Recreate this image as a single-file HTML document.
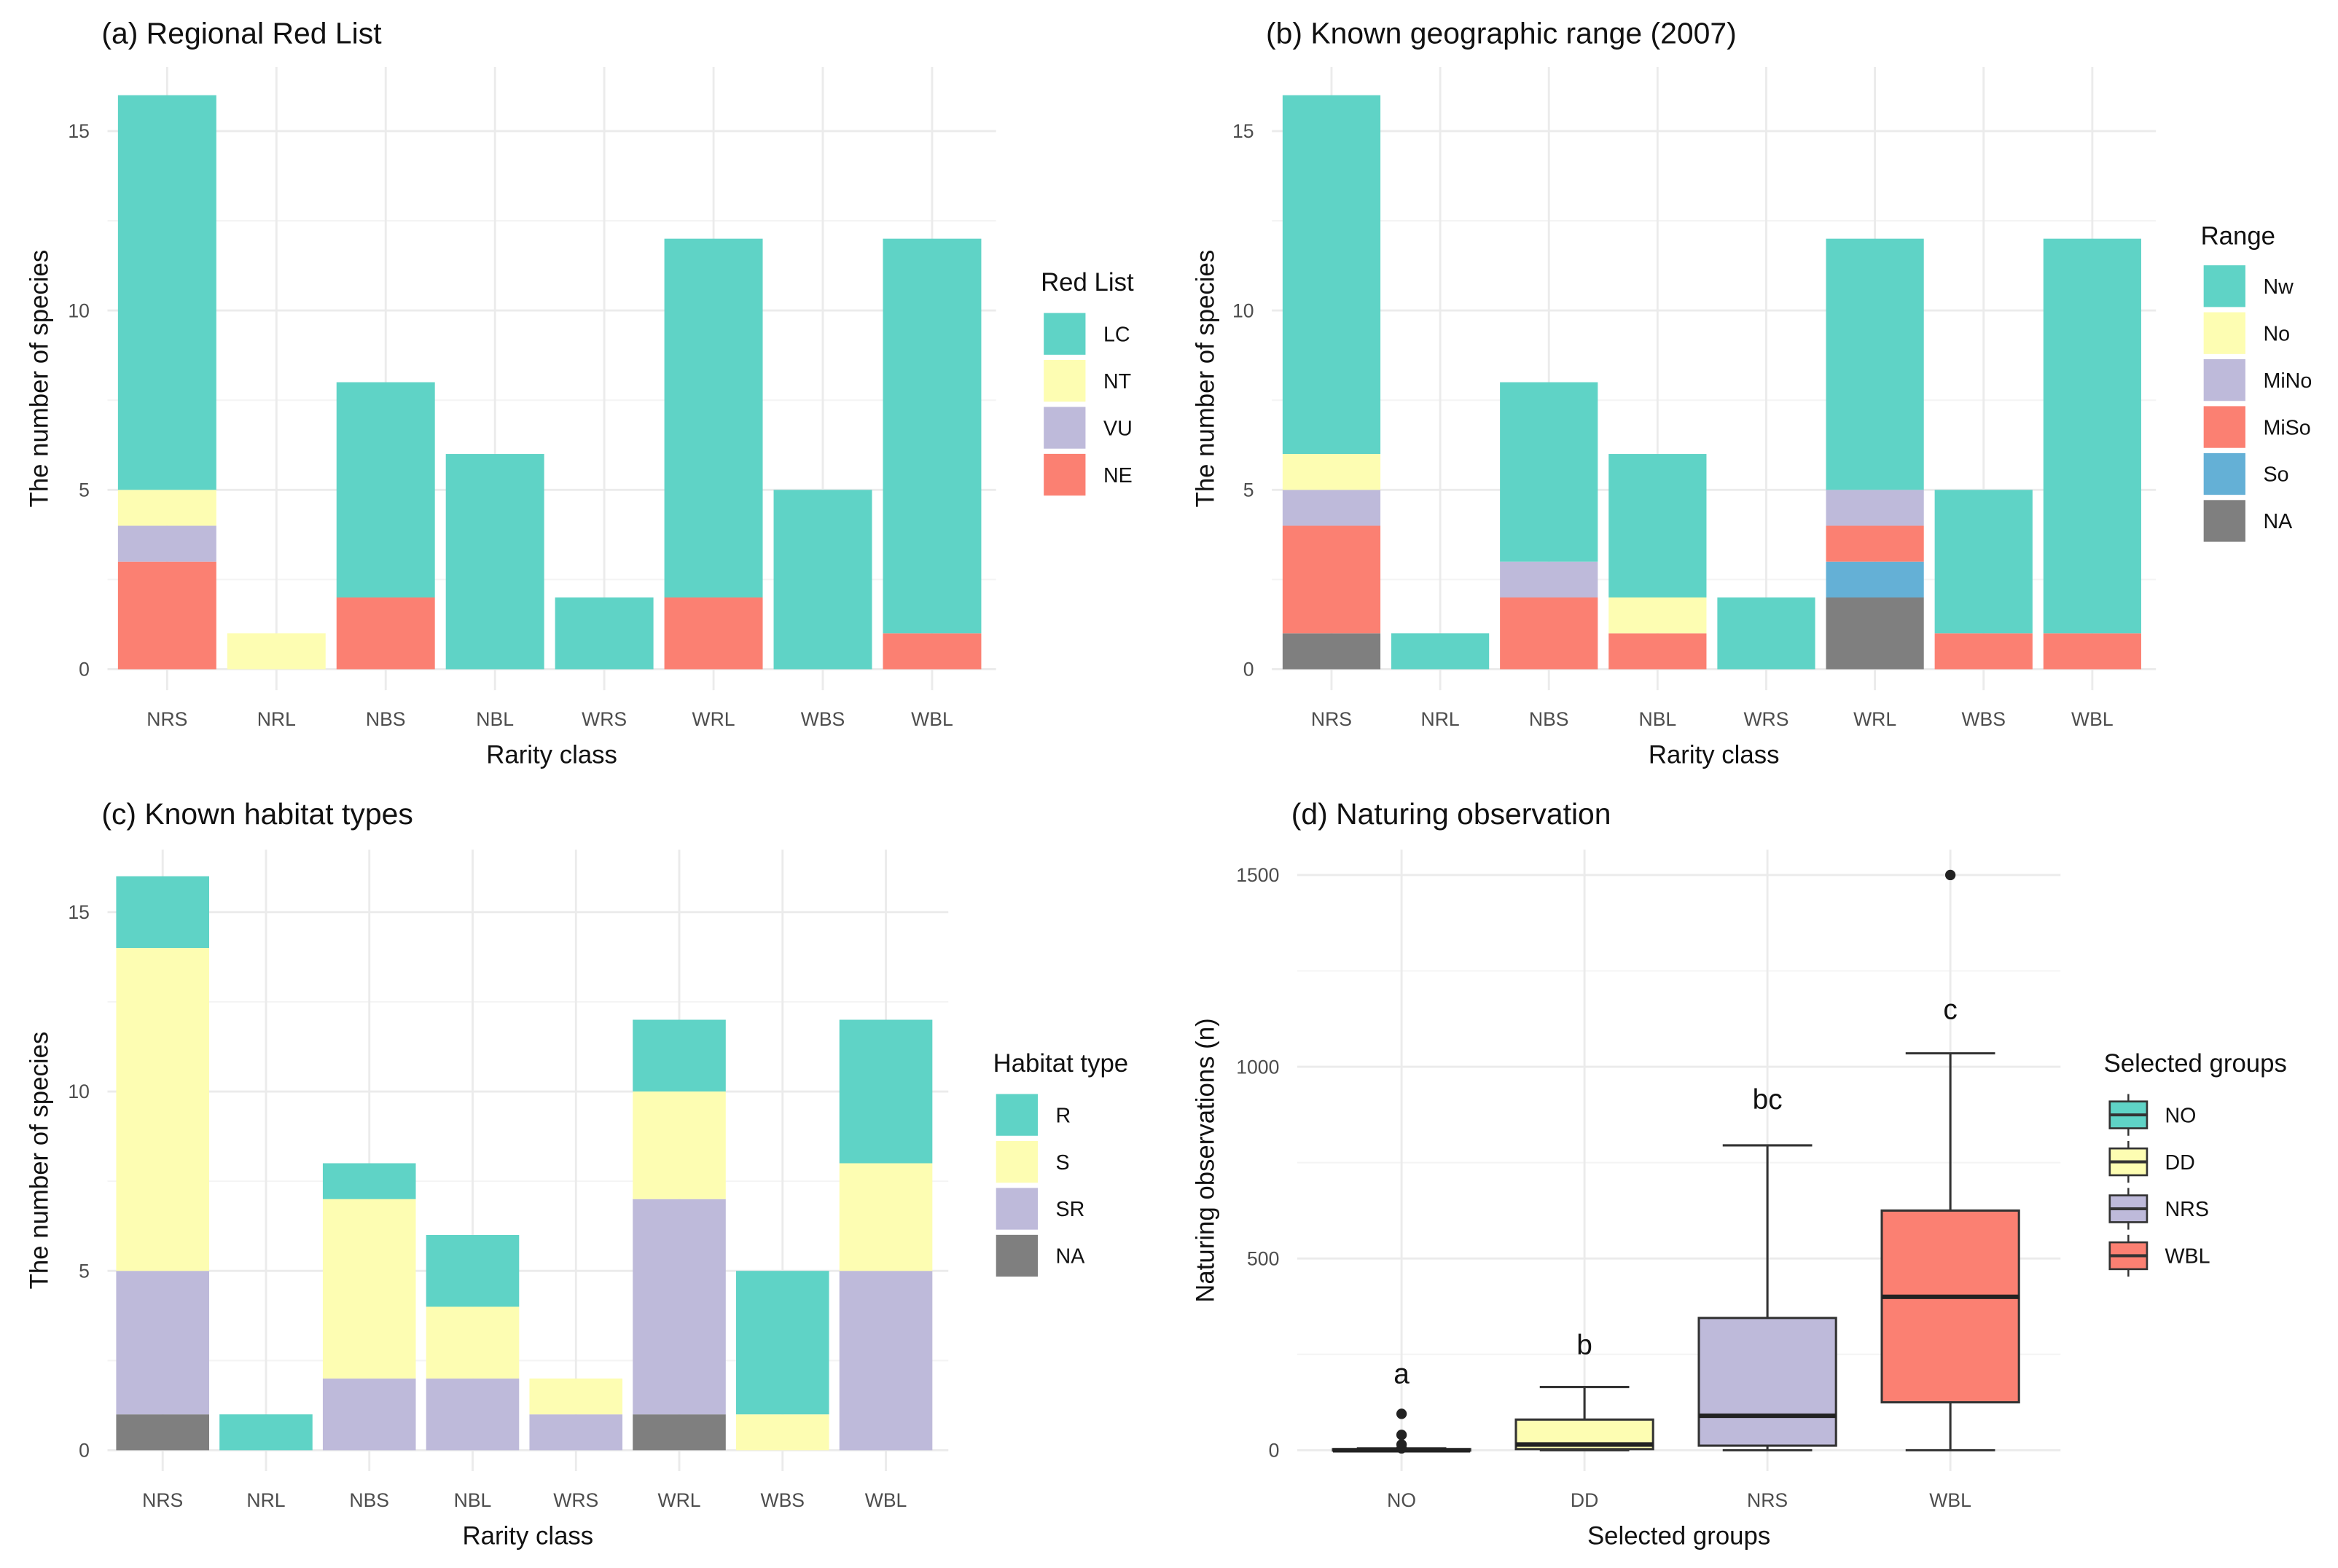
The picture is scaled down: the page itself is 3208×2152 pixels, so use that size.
<!DOCTYPE html>
<html><head><meta charset="utf-8"><style>
html,body{margin:0;padding:0;background:#fff}
svg{display:block}
text{font-family:"Liberation Sans",sans-serif}
</style></head><body>
<svg id="fig" width="3208" height="2152" viewBox="0 0 1568 1052" xmlns="http://www.w3.org/2000/svg"></svg>
<script>
// ---------- data ----------
const rarity = ["NRS","NRL","NBS","NBL","WRS","WRL","WBS","WBL"];
const redLevels = ["LC","NT","VU","NE"];
const redLC = [11,0,6,6,2,10,5,11];
const redNT = [1,1,0,0,0,0,0,0];
const redVU = [1,0,0,0,0,0,0,0];
const redNE = [3,0,2,0,0,2,0,1];
const rangeLevels = ["Nw","No","MiNo","MiSo","So","NA"];
const rangeNw = [10,1,5,4,2,7,4,11];
const rangeNo = [1,0,0,1,0,0,0,0];
const rangeMiNo = [1,0,1,0,0,1,0,0];
const rangeMiSo = [3,0,2,1,0,1,1,1];
const rangeSo = [0,0,0,0,0,1,0,0];
const rangeNA = [1,0,0,0,0,2,0,0];
const habLevels = ["R","S","SR","NA"];
const habR = [2,1,1,2,0,2,4,4];
const habS = [9,0,5,2,1,3,1,3];
const habSR = [4,0,2,2,1,6,0,5];
const habNA = [1,0,0,0,0,1,0,0];
const countTicks = [0,5,10,15];
const groups = ["NO","DD","NRS","WBL"];
const boxMin = [0,0,0,0];
const boxQ1 = [0,3,12,125];
const boxMed = [0,15,90,400];
const boxQ3 = [3,80,345,625];
const boxMax = [5,165,795,1035];
const outliers = [[95,40,15,5],[],[],[1500]];
const letters = ["a","b","bc","c"];
const letterY = [175,250,890,1125];
const obsTicks = [0,500,1000,1500];

const C = {teal:"#5fd3c6",yel:"#fdfdb2",lav:"#bebada",sal:"#fb8072",blue:"#64b0d6",gray:"#7f7f7f"};
const svg = document.getElementById('fig');
const NS = "http://www.w3.org/2000/svg";
function mk(tag, attrs, parent){const e=document.createElementNS(NS,tag);for(const k in attrs)e.setAttribute(k,attrs[k]);(parent||svg).appendChild(e);return e;}
function txt(s, attrs, parent){const e=mk('text',attrs,parent);e.textContent=s;return e;}

function panel(cfg){
  const g = mk('g',{});
  
  
  const xs = i => cfg.x0 + i*cfg.step;
  const ys = v => cfg.y0 - v*cfg.unit;
  for(let k=0;k<cfg.ticks.length;k++){
    const v=cfg.ticks[k]+cfg.minor;
    if(ys(v) < cfg.top) continue;
    const l=mk('line',{x1:cfg.left,x2:cfg.right,y1:ys(v),y2:ys(v),stroke:"#f4f4f4","stroke-width":1},g);
    
    
  }
  cfg.ticks.forEach(v=>{
    const l=mk('line',{x1:cfg.left,x2:cfg.right,y1:ys(v),y2:ys(v),stroke:"#ebebeb","stroke-width":1.4},g);
    
    
    const t=txt(String(v),{x:cfg.left-12,y:ys(v)+4.5,"text-anchor":"end","font-size":13,fill:"#4d4d4d"},g);
    
    
  });
  cfg.cats.forEach((c,i)=>{
    const l=mk('line',{x1:xs(i),x2:xs(i),y1:cfg.top,y2:cfg.bottom,stroke:"#ebebeb","stroke-width":1.4},g);
    
    
    const t=txt(c,{x:xs(i),y:cfg.bottom+24,"text-anchor":"middle","font-size":13,fill:"#4d4d4d"},g);
    
    
  });
  const tt=txt(cfg.title,{x:cfg.titleX,y:cfg.titleY,"font-size":20,fill:"#111"},g);
  
  
  const xt=txt(cfg.xtitle,{x:(cfg.left+cfg.right)/2,y:cfg.bottom+49,"text-anchor":"middle","font-size":17,fill:"#111"},g);
  
  
  const yc=(cfg.top+cfg.bottom)/2;
  const yt=txt(cfg.ytitle,{x:0,y:0,"text-anchor":"middle","font-size":17,fill:"#111",transform:`translate(${cfg.ytX},${yc}) rotate(-90)`},g);
  
  
  return {g,xs,ys};
}

function stacked(cfg, series, colors){
  const p = panel(cfg);
  const bw = cfg.step*0.9;
  cfg.cats.forEach((c,i)=>{
    let base=0;
    for(let s=series.length-1;s>=0;s--){
      const v=series[s][i]; if(!v) continue;
      const r=mk('rect',{x:p.xs(i)-bw/2,y:p.ys(base+v),width:bw,height:p.ys(base)-p.ys(base+v),fill:colors[s]},p.g);
      
      
      base+=v;
    }
  });
  const L=cfg.legend;
  const lt=txt(cfg.legendTitle,{x:L.x-2,y:L.y,"font-size":17,fill:"#111"},p.g);
  
  
  cfg.levels.forEach((lv,k)=>{
    const yy=L.y0+k*31.5;
    const r=mk('rect',{x:L.x,y:yy,width:28,height:28,fill:colors[k]},p.g);
    
    
    const t=txt(lv,{x:L.x+40,y:yy+19,"font-size":14,fill:"#111"},p.g);
    
    
  });
}

stacked({name:'panel-a-red-list',cats:rarity,levels:redLevels,x0:112,step:73.3,y0:449,unit:24.07,ticks:countTicks,minor:2.5,left:72,right:668,top:45,bottom:463,
  title:"(a) Regional Red List",titleX:68,titleY:29,xtitle:"Rarity class",ytitle:"The number of species",ytX:32,
  legendTitle:"Red List",legend:{x:700,y:195,y0:210}}, [redLC,redNT,redVU,redNE],[C.teal,C.yel,C.lav,C.sal]);

stacked({name:'panel-b-range',cats:rarity,levels:rangeLevels,x0:893,step:72.9,y0:449,unit:24.07,ticks:countTicks,minor:2.5,left:853,right:1446,top:45,bottom:463,
  title:"(b) Known geographic range (2007)",titleX:849,titleY:29,xtitle:"Rarity class",ytitle:"The number of species",ytX:814,
  legendTitle:"Range",legend:{x:1478,y:164,y0:178}}, [rangeNw,rangeNo,rangeMiNo,rangeMiSo,rangeSo,rangeNA],[C.teal,C.yel,C.lav,C.sal,C.blue,C.gray]);

stacked({name:'panel-c-habitat',cats:rarity,levels:habLevels,x0:109,step:69.3,y0:973,unit:24.07,ticks:countTicks,minor:2.5,left:72,right:636,top:570,bottom:987,
  title:"(c) Known habitat types",titleX:68,titleY:553,xtitle:"Rarity class",ytitle:"The number of species",ytX:32,
  legendTitle:"Habitat type",legend:{x:668,y:719,y0:734}}, [habR,habS,habSR,habNA],[C.teal,C.yel,C.lav,C.gray]);

(function(){
  const cfg={name:'panel-d-boxplot',cats:groups,x0:940,step:122.7,y0:973,unit:0.2573,ticks:obsTicks,minor:250,left:870,right:1382,top:570,bottom:987,
    title:"(d) Naturing observation",titleX:866,titleY:553,xtitle:"Selected groups",ytitle:"Naturing observations (n)",ytX:814};
  const p=panel(cfg);
  const cols=[C.teal,C.yel,C.lav,C.sal];
  const bw=92, cw=60;
  groups.forEach((gname,i)=>{
    const x=p.xs(i), st="#333";
    const w1=mk('line',{x1:x,x2:x,y1:p.ys(boxQ3[i]),y2:p.ys(boxMax[i]),stroke:st,"stroke-width":1.5},p.g);
    
    
    const w2=mk('line',{x1:x,x2:x,y1:p.ys(boxQ1[i]),y2:p.ys(boxMin[i]),stroke:st,"stroke-width":1.5},p.g);
    
    
    [boxMax[i],boxMin[i]].forEach(v=>{
      const c=mk('line',{x1:x-cw/2,x2:x+cw/2,y1:p.ys(v),y2:p.ys(v),stroke:st,"stroke-width":1.5},p.g);
      
      
    });
    const r=mk('rect',{x:x-bw/2,y:p.ys(boxQ3[i]),width:bw,height:Math.max(1,p.ys(boxQ1[i])-p.ys(boxQ3[i])),fill:cols[i],stroke:st,"stroke-width":1.5},p.g);
    
    
    const m=mk('line',{x1:x-bw/2,x2:x+bw/2,y1:p.ys(boxMed[i]),y2:p.ys(boxMed[i]),stroke:"#222","stroke-width":3},p.g);
    
    
    outliers[i].forEach(v=>{
      const o=mk('circle',{cx:x,cy:p.ys(v),r:3.5,fill:"#222"},p.g);
      
      
    });
    const t=txt(letters[i],{x:x,y:p.ys(letterY[i]),"text-anchor":"middle","font-size":19,fill:"#111"},p.g);
    
    
  });
  const lt=txt("Selected groups",{x:1411,y:719,"font-size":17,fill:"#111"},p.g);
  
  
  groups.forEach((gname,k)=>{
    const yy=734+k*31.5, x=1415;
    const vl=mk('line',{x1:x+12.5,x2:x+12.5,y1:yy,y2:yy+28,stroke:"#333","stroke-width":1.2},p.g);
    
    
    const r=mk('rect',{x:x,y:yy+5,width:25,height:18,fill:cols[k],stroke:"#333","stroke-width":1.3},p.g);
    
    
    const ml=mk('line',{x1:x,x2:x+25,y1:yy+14,y2:yy+14,stroke:"#333","stroke-width":2},p.g);
    
    
    const t=txt(gname,{x:x+37,y:yy+19,"font-size":14,fill:"#111"},p.g);
    
    
  });
})();
</script>
</body></html>
